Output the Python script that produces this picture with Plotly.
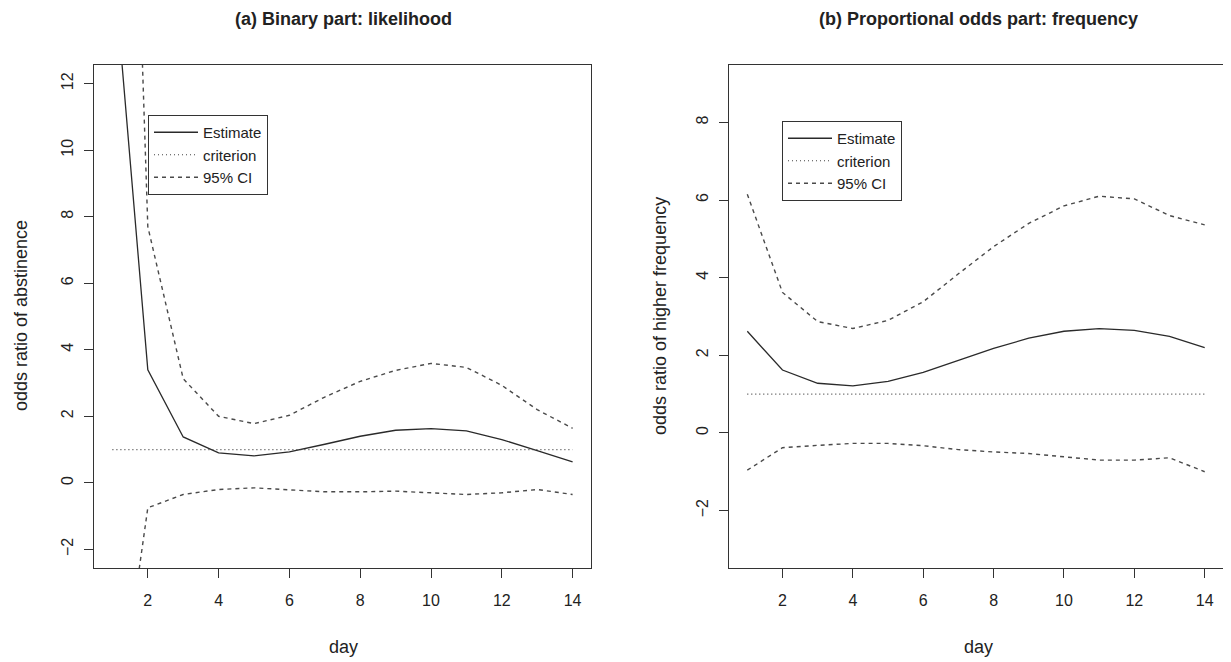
import plotly.graph_objects as go

# ---------------- data ----------------
days = [1, 2, 3, 4, 5, 6, 7, 8, 9, 10, 11, 12, 13, 14]

# (a) Binary part: likelihood
est_a = [16.0, 3.4, 1.38, 0.90, 0.81, 0.93, 1.16, 1.40, 1.58, 1.63, 1.56, 1.30, 0.97, 0.63]
upper_a = [40.0, 7.7, 3.13, 2.00, 1.78, 2.03, 2.58, 3.05, 3.38, 3.59, 3.47, 2.93, 2.20, 1.64]
lower_a = [-8.3, -0.75, -0.35, -0.20, -0.15, -0.20, -0.27, -0.27, -0.25, -0.30, -0.35, -0.30, -0.20, -0.35]

# (b) Proportional odds part: frequency
est_b = [2.62, 1.62, 1.28, 1.21, 1.33, 1.56, 1.87, 2.18, 2.44, 2.62, 2.69, 2.64, 2.49, 2.20]
upper_b = [6.15, 3.62, 2.87, 2.69, 2.90, 3.38, 4.10, 4.80, 5.40, 5.85, 6.10, 6.03, 5.60, 5.36]
lower_b = [-0.96, -0.38, -0.32, -0.27, -0.27, -0.33, -0.43, -0.49, -0.53, -0.62, -0.70, -0.70, -0.64, -1.00]

criterion_x = [1, 14]
criterion_y = [1, 1]

x_ticks = [2, 4, 6, 8, 10, 12, 14]
y_ticks_a = [-2, 0, 2, 4, 6, 8, 10, 12]
y_ticks_b = [-2, 0, 2, 4, 6, 8]

titles = ["(a) Binary part: likelihood", "(b) Proportional odds part: frequency"]
y_titles = ["odds ratio of abstinence", "odds ratio of higher frequency"]
x_title = "day"
names = ["Estimate", "criterion", "95% CI"]

# ---------------- styles ----------------
FONT = "Liberation Sans, Arial, Helvetica, sans-serif"
C_EST = "#2a2a2a"
C_CI = "#4a4a4a"
C_CRIT = "#444444"
AX = "#333333"
TXT = "#222222"

fig = go.Figure()

def add_panel(xa, ya, leg, est, up, lo):
    fig.add_trace(go.Scatter(x=days, y=est, mode="lines", name=names[0],
                             line=dict(color=C_EST, width=1.3),
                             xaxis=xa, yaxis=ya, legend=leg))
    fig.add_trace(go.Scatter(x=criterion_x, y=criterion_y, mode="lines", name=names[1],
                             line=dict(color=C_CRIT, width=1.2, dash="1px,3px"),
                             xaxis=xa, yaxis=ya, legend=leg))
    fig.add_trace(go.Scatter(x=days, y=up, mode="lines", name=names[2],
                             line=dict(color=C_CI, width=1.4, dash="4px,4px"),
                             xaxis=xa, yaxis=ya, legend=leg))
    fig.add_trace(go.Scatter(x=days, y=lo, mode="lines", name=names[2], showlegend=False,
                             line=dict(color=C_CI, width=1.4, dash="4px,4px"),
                             xaxis=xa, yaxis=ya, legend=leg))

add_panel("x", "y", "legend", est_a, upper_a, lower_a)
add_panel("x2", "y2", "legend2", est_b, upper_b, lower_b)

# the page body has an 8px margin; work in window pixels and shift
OFF = 8
W, H = 1231 - OFF, 662 - OFF
ML = 94 - OFF
MT = 65 - OFF
MB = H - (568 - OFF)
MR = W - (1223 - OFF)
PW, PH = W - ML - MR, H - MT - MB

def px_x(px):
    return (px - OFF - ML) / PW

def px_y(py):
    return (H - MB - (py - OFF)) / PH

axis_common = dict(showline=True, mirror=True, linecolor=AX, linewidth=1,
                   ticks="outside", ticklen=9, tickwidth=1, tickcolor=AX,
                   showgrid=False, zeroline=False,
                   tickfont=dict(family=FONT, size=16, color=TXT))

legend_common = dict(xanchor="left", yanchor="top", bgcolor="white",
                     bordercolor=AX, borderwidth=1, itemwidth=44,
                     font=dict(family=FONT, size=15, color=TXT), tracegroupgap=0)

fig.update_layout(
    width=W, height=H,
    margin=dict(l=ML, r=MR, t=MT, b=MB),
    paper_bgcolor="white", plot_bgcolor="white",
    font=dict(family=FONT, color=TXT),
    xaxis=dict(domain=[0, px_x(591)], range=[0.48, 14.52], tickvals=x_ticks,
               ticklabelstandoff=9, anchor="y", **axis_common),
    yaxis=dict(domain=[0, 1], range=[-2.56, 12.56], tickvals=y_ticks_a,
               tickangle=-90, ticklabelstandoff=5, anchor="x", **axis_common),
    xaxis2=dict(domain=[px_x(729), 1], range=[0.48, 14.52], tickvals=x_ticks,
                ticklabelstandoff=9, anchor="y2", **axis_common),
    yaxis2=dict(domain=[0, 1], range=[-3.48, 9.48], tickvals=y_ticks_b,
                tickangle=-90, ticklabelstandoff=5, anchor="x2", **axis_common),
    legend=dict(x=px_x(148), y=px_y(115), **legend_common),
    legend2=dict(x=px_x(782), y=px_y(121), **legend_common),
    showlegend=True,
)

annotations = [
    dict(text="<b>" + titles[0] + "</b>", x=px_x(343), y=px_y(19), size=18),
    dict(text="<b>" + titles[1] + "</b>", x=px_x(978), y=px_y(19), size=18),
    dict(text=x_title, x=px_x(343), y=px_y(647), size=18),
    dict(text=x_title, x=px_x(978), y=px_y(647), size=18),
    dict(text=y_titles[0], x=px_x(21), y=px_y(316), size=18, textangle=-90),
    dict(text=y_titles[1], x=px_x(660), y=px_y(316), size=18, textangle=-90),
]
for a in annotations:
    size = a.pop("size")
    fig.add_annotation(xref="paper", yref="paper", showarrow=False,
                       xanchor="center", yanchor="middle",
                       font=dict(family=FONT, size=size, color=TXT), **a)

fig.write_html("out.html")
